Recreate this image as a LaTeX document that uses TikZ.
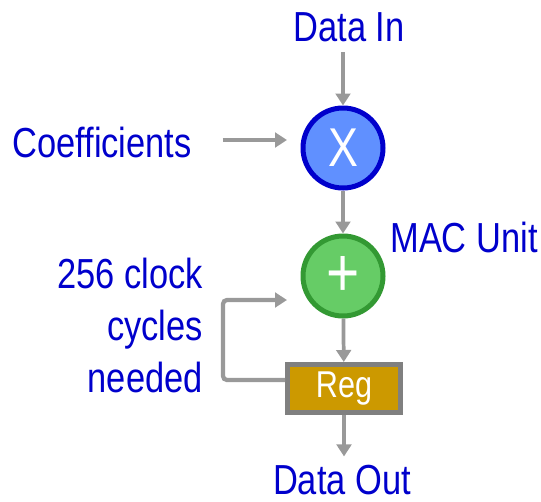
\documentclass[tikz,border=0pt]{standalone}
\usepackage{fontspec}
\setmainfont[FakeStretch=0.82]{Liberation Sans}
\usetikzlibrary{arrows.meta}
\definecolor{txtblue}{RGB}{0,0,204}
\definecolor{arrgray}{RGB}{153,153,153}
\definecolor{xfill}{RGB}{96,144,255}
\definecolor{xborder}{RGB}{0,0,204}
\definecolor{gfill}{RGB}{102,204,102}
\definecolor{gborder}{RGB}{51,153,51}
\definecolor{regfill}{RGB}{204,153,0}
\definecolor{regborder}{RGB}{128,128,128}
\begin{document}
\begin{tikzpicture}[x=0.75pt,y=-0.75pt,
  lbl/.style={text=txtblue,font=\fontsize{31.5}{39}\selectfont,inner sep=0pt,anchor=base},
  conn/.style={draw=arrgray,line width=2.8pt,-{Triangle[width=11pt,length=9pt]}},
  opcircle/.style={circle,line width=3.75pt,minimum size=60pt,inner sep=0pt,text=white},
  regbox/.style={rectangle,draw=regborder,fill=regfill,line width=3.75pt,minimum width=84.75pt,minimum height=36pt,inner sep=0pt,text=white,font=\fontsize{28}{28}\selectfont}]
\useasboundingbox (0,0) rectangle (541,501);

\node[lbl] (din) at (349,41) {Data In};
\node[lbl] (coef) at (102,157) {Coefficients};
\node[lbl] (mac) at (464,252) {MAC Unit};
\node[lbl,anchor=base east] (c1) at (203,288) {256 clock};
\node[lbl,anchor=base east] (c2) at (203,340) {cycles};
\node[lbl,anchor=base east] (c3) at (203,392) {needed};
\node[lbl] (dout) at (342,494) {Data Out};

\node[opcircle,draw=xborder,fill=xfill,font=\fontsize{41}{41}\selectfont] (mul) at (343,148) {X};
\node[opcircle,draw=gborder,fill=gfill,font=\fontsize{52}{52}\selectfont] (add) at (343,276) {+};
\node[regbox] (reg) at (344,388.5) {Reg};

\coordinate (ce) at (287,140);
\coordinate (fbc) at (223,380);
\coordinate (fb) at (223,300);
\coordinate (fbe) at (287,300);

\draw[conn,shorten <=8pt] (mul |- din.south) -- (mul);
\draw[conn,shorten <=23pt] (coef.east |- ce) -- (ce);
\draw[conn] (mul) -- (add);
\draw[conn] (add) -- (reg);
\draw[conn,shorten >=6pt] (reg.south) -- (reg.south |- dout.north);
\draw[conn,line width=3.2pt,rounded corners=3pt] (reg.west |- fbc) -- (fbc) -- (fb) -- (fbe);
\end{tikzpicture}
\end{document}
